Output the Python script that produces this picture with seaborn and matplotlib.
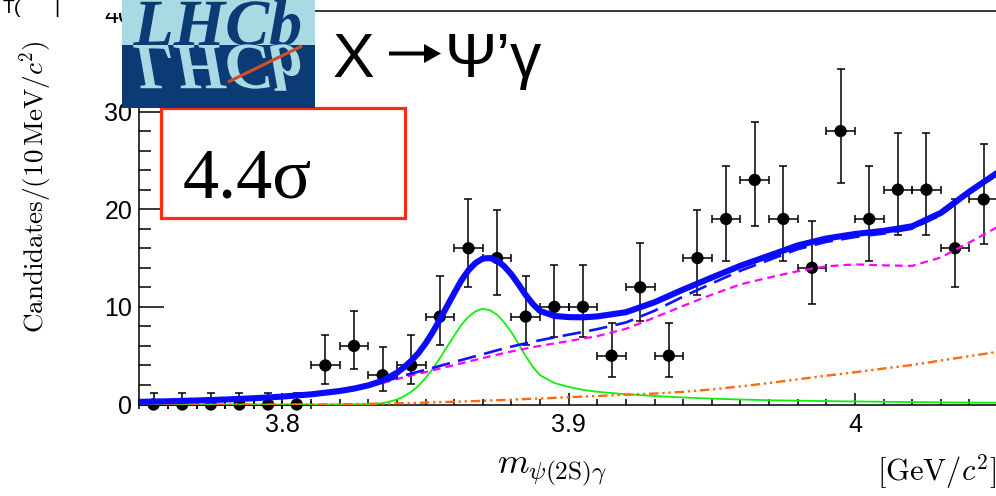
import numpy as np
import pandas as pd
import matplotlib
matplotlib.use("Agg")
import matplotlib.pyplot as plt
import seaborn as sns
from matplotlib.patches import Rectangle, PathPatch, Polygon
from matplotlib.textpath import TextPath
from matplotlib.font_manager import FontProperties
from matplotlib.transforms import Affine2D
from matplotlib.ticker import FixedLocator, MultipleLocator

# ---------------- data ----------------
bin_centers = [3.755, 3.765, 3.775, 3.785, 3.795, 3.805, 3.815, 3.825, 3.835, 3.845,
               3.855, 3.865, 3.875, 3.885, 3.895, 3.905, 3.915, 3.925, 3.935, 3.945,
               3.955, 3.965, 3.975, 3.985, 3.995, 4.005, 4.015, 4.025, 4.035, 4.045]
counts = [0, 0, 0, 0, 0, 0, 4, 6, 3, 4,
          9, 16, 15, 9, 10, 10, 5, 12, 5, 15,
          19, 23, 19, 14, 28, 19, 22, 22, 16, 21]
err_low = [0, 0, 0, 0, 0, 0, 1.91, 2.38, 1.63, 1.91,
           2.94, 3.96, 3.83, 2.94, 3.11, 3.11, 2.16, 3.41, 2.16, 3.83,
           4.32, 4.77, 4.32, 3.70, 5.27, 4.32, 4.66, 4.66, 3.96, 4.55]
err_high = [1.15, 1.15, 1.15, 1.15, 1.15, 1.15, 3.16, 3.58, 2.92, 3.16,
            4.11, 5.09, 4.96, 4.11, 4.26, 4.26, 3.38, 4.55, 3.38, 4.96,
            5.45, 5.89, 5.45, 4.83, 6.39, 5.45, 5.78, 5.78, 5.09, 5.67]
bin_half_width = 0.005

curve_mass = [3.75, 3.76, 3.77, 3.78, 3.79, 3.80, 3.81, 3.82, 3.825, 3.83, 3.835,
              3.84, 3.8425, 3.845, 3.8475, 3.85, 3.8525, 3.855, 3.8575, 3.86, 3.8625,
              3.865, 3.8675, 3.87, 3.8725, 3.875, 3.8775, 3.88, 3.8825, 3.885, 3.8875, 3.89,
              3.895, 3.90, 3.905, 3.91,
              3.92, 3.93, 3.94, 3.95, 3.96, 3.97, 3.98, 3.99, 4.00, 4.01, 4.02, 4.03, 4.04, 4.05]
signal = [0, 0, 0, 0, 0, 0, 0, 0, 0.01, 0.04, 0.13,
          0.5, 0.85, 1.3, 1.9, 2.7, 3.65, 4.75, 5.9, 7.05, 8.15,
          9.0, 9.55, 9.8, 9.65, 9.2, 8.4, 7.4, 6.2, 4.95, 3.85, 3.0,
          2.2, 1.8, 1.5, 1.3,
          1.05, 0.87, 0.72, 0.6, 0.51, 0.44, 0.39, 0.35, 0.31, 0.28, 0.25, 0.22, 0.2, 0.18]
bkg_total = [0.27, 0.33, 0.41, 0.51, 0.64, 0.81, 1.04, 1.38, 1.62, 1.92, 2.3,
             2.75, 2.97, 3.17, 3.36, 3.55, 3.75, 3.95, 4.15, 4.35, 4.55,
             4.75, 4.95, 5.15, 5.35, 5.55, 5.75, 5.93, 6.1, 6.27, 6.43, 6.58,
             6.87, 7.15, 7.43, 7.72,
             8.4, 9.6, 11.05, 12.4, 13.7, 14.8, 15.9, 16.65, 17.15, 17.5, 18.0, 19.4, 21.6, 23.6]
fit_total = [0.27, 0.33, 0.41, 0.51, 0.64, 0.81, 1.04, 1.38, 1.63, 1.96, 2.43,
             3.25, 3.82, 4.47, 5.26, 6.25, 7.4, 8.7, 10.05, 11.4, 12.7,
             13.75, 14.5, 14.95, 15.0, 14.75, 14.15, 13.33, 12.3, 11.22, 10.28, 9.58,
             9.07, 8.95, 8.93, 9.02,
             9.45, 10.47, 11.77, 13.0, 14.21, 15.24, 16.29, 17.0, 17.46, 17.78, 18.25, 19.62, 21.8, 23.78]
bkg_comb = [0.27, 0.33, 0.41, 0.51, 0.64, 0.81, 1.03, 1.35, 1.57, 1.85, 2.2,
            2.6, 2.8, 2.98, 3.15, 3.32, 3.5, 3.68, 3.86, 4.04, 4.22,
            4.4, 4.58, 4.76, 4.93, 5.1, 5.27, 5.43, 5.58, 5.73, 5.87, 6.0,
            6.25, 6.5, 6.75, 7.0,
            7.75, 8.9, 10.1, 11.25, 12.3, 13.0, 13.65, 14.15, 14.35, 14.25, 14.2, 15.05, 16.6, 18.2]
bkg_other = [0, 0, 0, 0, 0, 0, 0, 0.02, 0.04, 0.06, 0.09,
             0.12, 0.14, 0.15, 0.17, 0.2, 0.22, 0.24, 0.26, 0.28, 0.3,
             0.33, 0.35, 0.38, 0.41, 0.44, 0.47, 0.5, 0.53, 0.56, 0.59, 0.62,
             0.68, 0.75, 0.81, 0.87,
             1.0, 1.12, 1.3, 1.55, 1.85, 2.2, 2.58, 2.95, 3.3, 3.68, 4.05, 4.5, 4.95, 5.4]

xticks = [3.8, 3.9, 4.0]
xtick_labels = ["3.8", "3.9", "4"]
yticks = [0, 10, 20, 30, 40]
ytick_labels = ["0", "10", "20", "30", "40"]

# ---------------- style ----------------
sns.set_theme(style="ticks")
plt.rcParams.update({
    'font.family': ['Liberation Sans', 'DejaVu Sans'],
    'mathtext.fontset': 'cm',
    'axes.edgecolor': 'black',
    'axes.linewidth': 1.1,
    'xtick.bottom': True,
    'ytick.left': True,
    'xtick.direction': 'in',
    'ytick.direction': 'in',
})

W, H = 996, 496
fig = plt.figure(figsize=(W / 100, H / 100), dpi=100)

def fx(px):
    return px / W

def fy(py):
    return 1 - py / H

ax = fig.add_axes([fx(139.3), fy(404.5), (998 - 139.3) / W, (404.5 - 11) / H])
ax.set_facecolor('white')

# data points
ax.errorbar(bin_centers, counts, yerr=[err_low, err_high], xerr=bin_half_width,
            fmt='none', ecolor='black', elinewidth=1.1, capsize=2.6, capthick=1.1,
            zorder=2, clip_on=False)
sns.scatterplot(x=bin_centers, y=counts, ax=ax, color='black', s=78, edgecolor='none',
                zorder=3, clip_on=False, legend=False)

# fit components
sns.lineplot(x=curve_mass, y=signal, ax=ax, color='#10ee10', linewidth=1.3,
             sort=False, estimator=None, errorbar=None, zorder=4)
sns.lineplot(x=curve_mass, y=bkg_other, ax=ax, color='#ff6a10', linewidth=1.7,
             linestyle=(0, (4, 1.6, 1, 1.6, 1, 1.6)),
             sort=False, estimator=None, errorbar=None, zorder=4)
sns.lineplot(x=curve_mass, y=bkg_comb, ax=ax, color='#ff00ff', linewidth=1.6,
             linestyle=(0, (3.5, 2.3)),
             sort=False, estimator=None, errorbar=None, zorder=5)
sns.lineplot(x=curve_mass, y=bkg_total, ax=ax, color='#1010ff', linewidth=1.9,
             linestyle=(0, (7, 3.2)),
             sort=False, estimator=None, errorbar=None, zorder=5)
sns.lineplot(x=curve_mass, y=fit_total, ax=ax, color='#0a0aff', linewidth=4.4,
             sort=False, estimator=None, errorbar=None, zorder=6)

ax.set_xlim(3.75, 4.05)
ax.set_ylim(0, 40.3)
ax.xaxis.set_major_locator(FixedLocator(xticks))
ax.set_xticklabels(xtick_labels)
ax.xaxis.set_minor_locator(MultipleLocator(0.01))
ax.yaxis.set_major_locator(FixedLocator(yticks))
ax.set_yticklabels(ytick_labels)
ax.yaxis.set_minor_locator(MultipleLocator(2))
ax.tick_params(axis='both', which='both', direction='in', bottom=True, left=True,
               top=False, right=False, color='black', width=1.1,
               labelsize=18, labelcolor='black')
ax.tick_params(axis='x', which='major', length=8.6, pad=6)
ax.tick_params(axis='x', which='minor', length=4.3)
ax.tick_params(axis='y', which='major', length=18, pad=5)
ax.tick_params(axis='y', which='minor', length=8.6)
ax.set_xlabel('')
ax.set_ylabel('')

# axis titles
fig.text(fx(36), fy(187), r"$\mathrm{Candidates}/(10\,\mathrm{MeV}/c^{2})$",
         rotation=90, ha='center', va='center', fontsize=19.5, color='black')
fig.text(fx(552), fy(471), r"$m_{\psi(2\mathrm{S})\gamma}$", ha='center', va='center',
         fontsize=26, color='black')
fig.text(fx(936), fy(472), r"$[\mathrm{GeV}/c^{2}]$", ha='center', va='center',
         fontsize=22, color='black')

# ---------------- overlays ----------------
fig.add_artist(Rectangle((0, fy(13)), fx(263), 13 / H, transform=fig.transFigure,
                         facecolor='white', edgecolor='none', zorder=20))
for px, s in [(3, "T("), (54, "|"), (133, ")["), (210, "]")]:
    fig.text(fx(px), fy(13), s, fontsize=14, ha='left', va='baseline', zorder=21,
             color='black')

# LHCb logo
lax = fig.add_axes([fx(122), fy(108), (315 - 122) / W, 108 / H], zorder=30)
lax.set_xlim(0, 193)
lax.set_ylim(0, 108)
lax.axis('off')
lax.add_patch(Rectangle((0, 63), 193, 45, facecolor='#a9d9e3', edgecolor='none'))
lax.add_patch(Rectangle((0, 0), 193, 63, facecolor='#0b3b74', edgecolor='none'))
fp = FontProperties(family='Liberation Serif', style='italic', weight='bold')
tp = TextPath((0, 0), "LHCb", size=66, prop=fp)
x0 = tp.get_extents().x0
up = Affine2D().translate(-x0, 0).translate(11, 63)
dn = Affine2D().translate(-x0, 0).scale(1.0, -1).translate(11, 63)
lax.add_patch(PathPatch(up.transform_path(tp), facecolor='#0b3b74', edgecolor='none'))
lax.add_patch(PathPatch(dn.transform_path(tp), facecolor='#a9d9e3', edgecolor='none'))
lax.plot([106, 180], [26, 62], color='#c8502a', linewidth=2.3, solid_capstyle='butt')

# decay title: X, heavy arrow, psi' gamma
fig.text(fx(333), fy(77), "X", fontsize=45, ha='left', va='baseline', zorder=25,
         color='black')
arrow_shape = np.array([[389, 51.5], [424, 51.5], [424, 44], [441, 53.5],
                        [424, 63], [424, 55.5], [389, 55.5]])
fig.add_artist(Polygon(np.column_stack([arrow_shape[:, 0] / W, 1 - arrow_shape[:, 1] / H]),
                       closed=True, transform=fig.transFigure, facecolor='black',
                       edgecolor='none', zorder=25))
fig.text(fx(445), fy(77), "\u03a8\u2019\u03b3", fontsize=45, ha='left', va='baseline',
         zorder=25, color='black', family=['Liberation Sans', 'DejaVu Sans'])

# significance box
fig.add_artist(Rectangle((fx(161), fy(218)), (405 - 161) / W, (218 - 108) / H,
                         transform=fig.transFigure, facecolor='white',
                         edgecolor='#ff2a10', linewidth=2.3, zorder=22))
fig.text(fx(183), fy(197), "4.4\u03c3", fontsize=52, ha='left', va='baseline',
         family=['Liberation Serif', 'DejaVu Serif'], zorder=23, color='black')

fig.savefig("out.png", dpi=100, facecolor='white')
